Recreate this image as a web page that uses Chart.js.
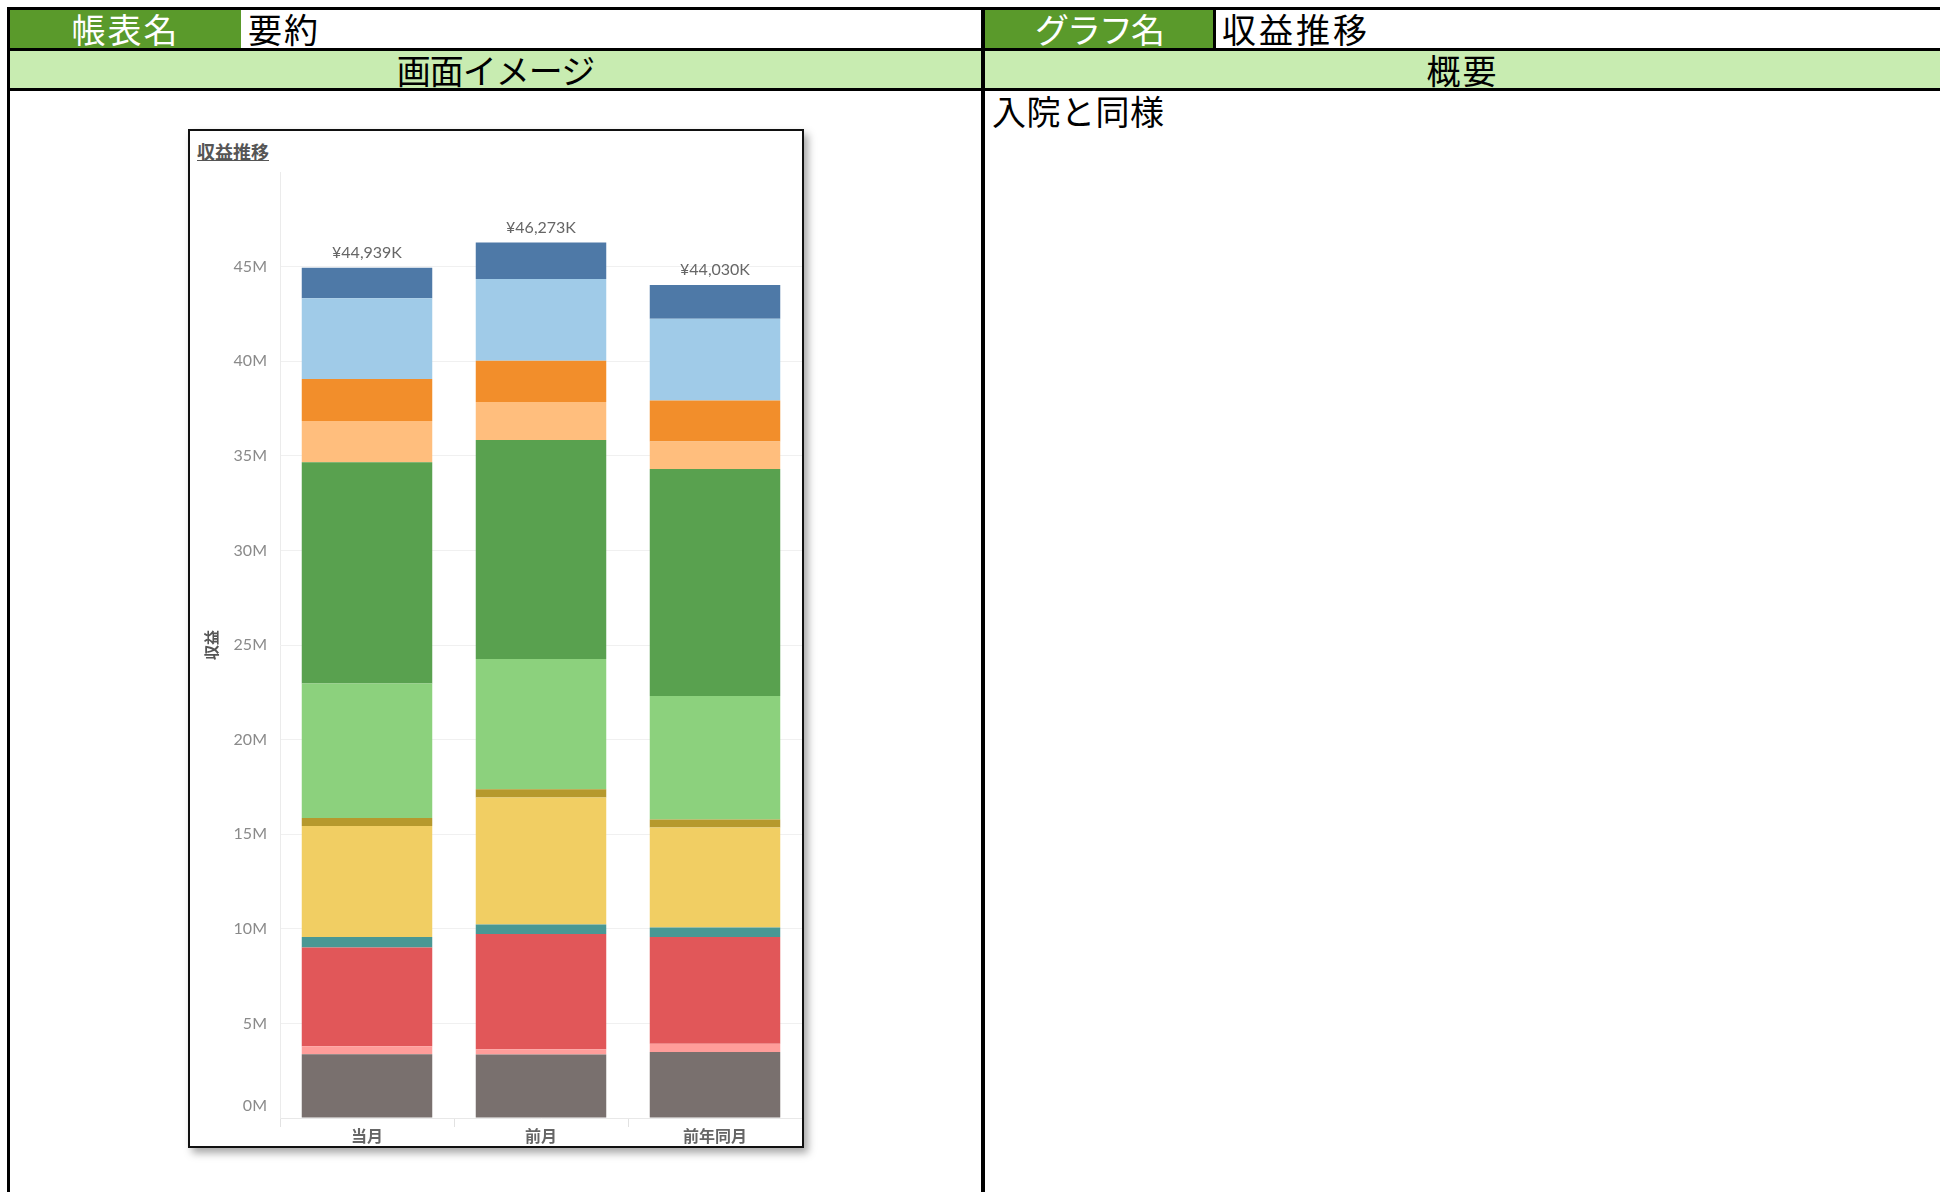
<!DOCTYPE html>
<html lang="ja">
<head>
<meta charset="utf-8">
<title>収益推移</title>
<script src="https://cdn.jsdelivr.net/npm/chart.js@4/dist/chart.umd.min.js"></script>
<style>
    html, body { margin: 0; padding: 0; background: #fff; }
    body { width: 1940px; height: 1192px; position: relative; overflow: hidden; font-family: "Noto Sans CJK JP", sans-serif; }
    .line { position: absolute; background: #000; }
    .cell { position: absolute; font-size: 34px; line-height: 38px; white-space: nowrap; }
    .hdr-green { background: #5a9a2b; color: #fff; text-align: center; }
    .hdr-light { background: #c8ecb1; color: #000; text-align: center; }
    .chart-frame {
        position: absolute; left: 188px; top: 129px; width: 616px; height: 1019px;
        box-sizing: border-box; border: 2px solid #111; background: #fff;
        box-shadow: 4px 5px 8px rgba(0, 0, 0, .35);
    }
    .chart-title {
        position: absolute; left: 7px; top: 7px; font-size: 18px; font-weight: bold;
        color: #555; text-decoration: underline;
    }
    #chart { position: absolute; left: 0; top: 0; }
</style>
</head>
<body>

<!-- spreadsheet header -->
<div class="cell hdr-green" style="left:10px;top:10px;width:231px;height:38px;letter-spacing:2px;">帳表名</div>
<div class="cell" style="left:248px;top:10px;letter-spacing:2px;">要約</div>
<div class="cell hdr-light" style="left:10px;top:51px;width:971px;height:37px;letter-spacing:-1px;">画面イメージ</div>

<div class="cell hdr-green" style="left:985px;top:10px;width:228px;height:38px;letter-spacing:-2px;">グラフ名</div>
<div class="cell" style="left:1222px;top:10px;letter-spacing:3px;">収益推移</div>
<div class="cell hdr-light" style="left:985px;top:51px;width:955px;height:37px;letter-spacing:2px;">概要</div>
<div class="cell" style="left:992px;top:92px;letter-spacing:0.5px;">入院と同様</div>

<div class="line" style="left:7px;top:7px;width:1933px;height:3px;"></div>
<div class="line" style="left:7px;top:48px;width:1933px;height:3px;"></div>
<div class="line" style="left:7px;top:88px;width:1933px;height:3px;"></div>
<div class="line" style="left:7px;top:7px;width:3px;height:1185px;"></div>
<div class="line" style="left:981px;top:7px;width:4px;height:1185px;"></div>
<div class="line" style="left:1213px;top:10px;width:3px;height:38px;"></div>

<div class="chart-frame">
    <div class="chart-title">収益推移</div>
    <canvas id="chart" width="612" height="1015"></canvas>
</div>

<script>
// values in thousand yen (K)
const categories = ['当月', '前月', '前年同月'];
const totals = [44939, 46273, 44030];
const yTicks = [0, 5000, 10000, 15000, 20000, 25000, 30000, 35000, 40000, 45000, 50000];

// segments, bottom to top
const seriesGray = [3370, 3350, 3490];
const seriesPink = [420, 280, 440];
const seriesRed = [5220, 6100, 5630];
const seriesTeal = [560, 500, 510];
const seriesYellow = [5860, 6710, 5290];
const seriesOlive = [430, 430, 420];
const seriesLightGreen = [7110, 6890, 6520];
const seriesGreen = [11690, 11580, 12000];
const seriesLightOrange = [2180, 2010, 1450];
const seriesOrange = [2220, 2170, 2170];
const seriesLightBlue = [4270, 4330, 4330];
const seriesBlue = [1609, 1923, 1780];

const series = [
    { label: 'gray', data: seriesGray, color: '#79706e' },
    { label: 'pink', data: seriesPink, color: '#ff9d9a' },
    { label: 'red', data: seriesRed, color: '#e15759' },
    { label: 'teal', data: seriesTeal, color: '#499894' },
    { label: 'yellow', data: seriesYellow, color: '#f1ce63' },
    { label: 'olive', data: seriesOlive, color: '#b6992d' },
    { label: 'lightgreen', data: seriesLightGreen, color: '#8cd17d' },
    { label: 'green', data: seriesGreen, color: '#59a14f' },
    { label: 'lightorange', data: seriesLightOrange, color: '#ffbe7d' },
    { label: 'orange', data: seriesOrange, color: '#f28e2b' },
    { label: 'lightblue', data: seriesLightBlue, color: '#a0cbe8' },
    { label: 'blue', data: seriesBlue, color: '#4e79a7' }
];

const tickFont = '16px Lato, "Open Sans", sans-serif';

// totals above the stacks, and the 0M label that sits above the baseline
const extraLabels = {
    id: 'extraLabels',
    afterDatasetsDraw(chart) {
        const ctx = chart.ctx;
        const meta = chart.getDatasetMeta(chart.data.datasets.length - 1);
        ctx.save();
        ctx.font = '16px Lato, "Open Sans", sans-serif';
        ctx.fillStyle = '#666';
        ctx.textAlign = 'center';
        ctx.textBaseline = 'bottom';
        meta.data.forEach(function (bar, i) {
            ctx.fillText('¥' + totals[i].toLocaleString('en-US') + 'K', bar.x, bar.y - 7);
        });
        const y = chart.scales.y;
        ctx.font = tickFont;
        ctx.fillStyle = '#8a8a8a';
        ctx.textAlign = 'right';
        ctx.textBaseline = 'middle';
        ctx.fillText((yTicks[0] / 1000) + 'M', y.right - 13, y.getPixelForValue(yTicks[0]) - 12);
        ctx.restore();
    }
};

new Chart(document.getElementById('chart'), {
    type: 'bar',
    data: {
        labels: categories,
        datasets: series.map(s => ({
            label: s.label,
            data: s.data,
            backgroundColor: s.color,
            borderWidth: 0,
            categoryPercentage: 1,
            barPercentage: 0.75
        }))
    },
    options: {
        responsive: false,
        animation: false,
        layout: { padding: { top: 41, right: 0, left: 0, bottom: 0 } },
        plugins: { legend: { display: false }, tooltip: { enabled: false } },
        scales: {
            x: {
                stacked: true,
                grid: { display: true, drawOnChartArea: false, drawTicks: true, tickLength: 9, color: '#e2e2e2', offset: true },
                border: { display: true, color: '#e8e8e8' },
                ticks: { color: '#666', padding: -1, font: { family: '"Noto Sans CJK JP", sans-serif', size: 16, weight: 'bold' } },
                afterFit: s => { s.height = 28; }
            },
            y: {
                stacked: true,
                min: 0,
                max: 50000,
                afterBuildTicks: s => { s.ticks = yTicks.map(v => ({ value: v })); },
                grid: {
                    drawTicks: false,
                    color: c => (c.tick && c.tick.value === 50000) ? 'rgba(0,0,0,0)' : '#f0f0f0'
                },
                border: { display: true, color: '#ebebeb' },
                ticks: {
                    color: '#8a8a8a',
                    padding: 13,
                    font: { family: 'Lato, "Open Sans", sans-serif', size: 16 },
                    callback: v => (v === 50000 || v === 0) ? '' : (v / 1000) + 'M'
                },
                title: {
                    display: true,
                    text: '収益',
                    color: '#555',
                    padding: { top: 12, bottom: 0 },
                    font: { family: '"Noto Sans CJK JP", sans-serif', size: 15, weight: 'bold' }
                },
                afterFit: s => { s.width = 90; }
            }
        }
    },
    plugins: [extraLabels]
});
</script>
</body>
</html>
